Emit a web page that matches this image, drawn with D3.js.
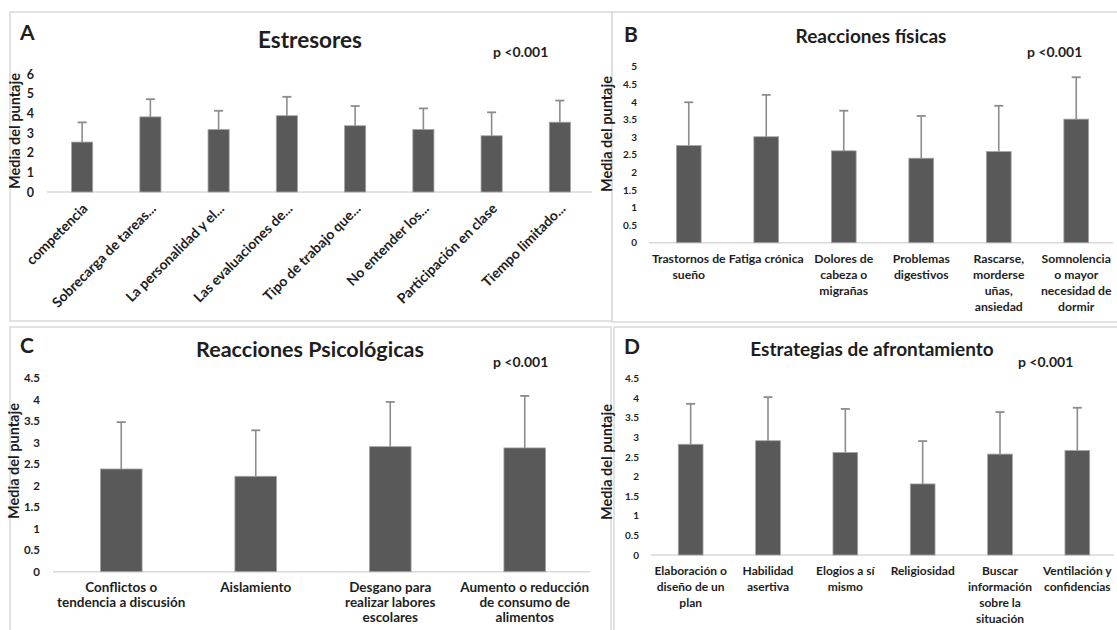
<!DOCTYPE html>
<html>
<head>
<meta charset="utf-8">
<script src="https://cdnjs.cloudflare.com/ajax/libs/d3/7.8.5/d3.min.js"></script>
<style>
  body { margin: 0; background: #fff; }
  text { font-family: Lato, "Open Sans", sans-serif; font-weight: bold; fill: #1e1e1e; }
</style>
</head>
<body>
<svg id="chart" width="1117" height="630"></svg>
<script>
// A - Estresores
const catsA = ["competencia", "Sobrecarga de tareas...", "La personalidad y el...", "Las evaluaciones de...",
  "Tipo de trabajo que...", "No entender los...", "Participación en clase", "Tiempo limitado..."]
const meansA = [2.54, 3.82, 3.18, 3.88, 3.37, 3.18, 2.86, 3.55]
const sdA = [1.00, 0.90, 0.95, 0.96, 1.00, 1.07, 1.19, 1.10]
const ticksA = [0, 1, 2, 3, 4, 5, 6]

// B - Reacciones físicas
const catsB = ["Trastornos de\nsueño", "Fatiga crónica", "Dolores de\ncabeza o\nmigrañas", "Problemas\ndigestivos",
  "Rascarse,\nmorderse\nuñas,\nansiedad", "Somnolencia\no mayor\nnecesidad de\ndormir"]
const meansB = [2.76, 3.01, 2.61, 2.40, 2.59, 3.51]
const sdB = [1.23, 1.19, 1.14, 1.20, 1.30, 1.19]
const ticksB = [0, 0.5, 1, 1.5, 2, 2.5, 3, 3.5, 4, 4.5, 5]

// C - Reacciones Psicológicas
const catsC = ["Conflictos o\ntendencia a discusión", "Aislamiento", "Desgano para\nrealizar labores\nescolares",
  "Aumento o reducción\nde consumo de\nalimentos"]
const meansC = [2.39, 2.22, 2.91, 2.88]
const sdC = [1.09, 1.07, 1.04, 1.21]
const ticksC = [0, 0.5, 1, 1.5, 2, 2.5, 3, 3.5, 4, 4.5]

// D - Estrategias de afrontamiento
const catsD = ["Elaboración o\ndiseño de un\nplan", "Habilidad\nasertiva", "Elogios a sí\nmismo", "Religiosidad",
  "Buscar\ninformación\nsobre la\nsituación", "Ventilación y\nconfidencias"]
const meansD = [2.82, 2.91, 2.61, 1.81, 2.57, 2.66]
const sdD = [1.03, 1.11, 1.11, 1.09, 1.07, 1.09]
const ticksD = [0, 0.5, 1, 1.5, 2, 2.5, 3, 3.5, 4, 4.5]

const pLabel = "p <0.001"
const yTitle = "Media del puntaje"

var svg = d3.select("#chart")

function panel(o) {
  var g = svg.append("g")

  // frame
  g.append("rect")
    .attr("x", o.frame[0]).attr("y", o.frame[1])
    .attr("width", o.frame[2]).attr("height", o.frame[3])
    .attr("fill", "#fff").attr("stroke", "#d9d9d9").attr("stroke-width", 1.5)

  var x = d3.scaleBand()
    .domain(o.cats)
    .range(o.xr)
    .paddingInner(1 - o.barFrac)
    .paddingOuter((1 - o.barFrac) / 2)

  var y = d3.scaleLinear()
    .domain([0, d3.max(o.ticks)])
    .range(o.yr)

  // letter, title, p value
  g.append("text").attr("x", o.letter[0]).attr("y", o.letter[1])
    .attr("font-size", "21px").text(o.name)
  g.append("text").attr("x", o.title[0]).attr("y", o.title[1])
    .attr("text-anchor", "middle").attr("font-size", o.titleSize + "px").text(o.label)
  g.append("text").attr("x", o.p[0]).attr("y", o.p[1])
    .attr("font-size", "14px").text(pLabel)

  // y axis (labels only, no line)
  var yAxis = g.append("g")
    .attr("transform", "translate(" + o.tickX + ",0)")
    .call(d3.axisLeft(y).tickValues(o.ticks).tickFormat((d) => String(d)).tickSize(0).tickPadding(0))
  yAxis.select(".domain").remove()
  yAxis.selectAll("text")
    .attr("font-size", o.tickSize + "px")
    .attr("font-family", "Lato, sans-serif")
    .attr("font-weight", "bold")
    .attr("fill", "#1e1e2e")

  g.append("text")
    .attr("transform", "translate(" + o.yTitle[0] + "," + o.yTitle[1] + ") rotate(-90)")
    .attr("text-anchor", "middle")
    .attr("dy", "0.35em")
    .attr("font-size", "14.5px")
    .text(yTitle)

  // baseline
  g.append("line")
    .attr("x1", o.base[0]).attr("x2", o.base[1])
    .attr("y1", y(0)).attr("y2", y(0))
    .attr("stroke", "#d9d9d9").attr("stroke-width", 1.5)

  // bars
  g.selectAll(".bar")
    .data(o.means)
    .enter().append("rect")
    .attr("class", "bar")
    .attr("x", (d, i) => x(o.cats[i]))
    .attr("y", (d) => y(d))
    .attr("width", x.bandwidth())
    .attr("height", (d) => y(0) - y(d))
    .attr("fill", "#595959")
    .attr("stroke", "#a6a6a6")
    .attr("stroke-width", 0.8)

  // error bars (upper only)
  var cx = (i) => x(o.cats[i]) + x.bandwidth() / 2
  g.selectAll(".err")
    .data(o.means)
    .enter().append("line")
    .attr("x1", (d, i) => cx(i)).attr("x2", (d, i) => cx(i))
    .attr("y1", (d) => y(d))
    .attr("y2", (d, i) => y(d + o.sd[i]))
    .attr("stroke", "#8c8c8c").attr("stroke-width", 1.6)
  g.selectAll(".cap")
    .data(o.means)
    .enter().append("line")
    .attr("x1", (d, i) => cx(i) - 4.5).attr("x2", (d, i) => cx(i) + 4.5)
    .attr("y1", (d, i) => y(d + o.sd[i]))
    .attr("y2", (d, i) => y(d + o.sd[i]))
    .attr("stroke", "#8c8c8c").attr("stroke-width", 1.8)

  // category labels
  if (o.rotate) {
    g.selectAll(".cat")
      .data(o.cats)
      .enter().append("text")
      .attr("transform", (d, i) => "translate(" + (cx(i) + 3) + "," + (y(0) + 14) + ") rotate(-45)")
      .attr("text-anchor", "end")
      .attr("dy", "0.35em")
      .attr("font-size", o.catSize + "px")
      .text((d) => d)
  } else {
    var t = g.selectAll(".cat")
      .data(o.cats)
      .enter().append("text")
      .attr("text-anchor", "middle")
      .attr("font-size", o.catSize + "px")
    t.selectAll("tspan")
      .data((d, i) => d.split("\n").map((s) => ({s: s, i: i})))
      .enter().append("tspan")
      .attr("x", (d) => cx(d.i))
      .attr("y", (d, j) => o.catY + j * o.lineH)
      .text((d) => d.s)
  }
}

panel({name: "A", label: "Estresores", cats: catsA, means: meansA, sd: sdA, ticks: ticksA,
  frame: [10, 12, 602, 309], xr: [48, 594], yr: [192, 74], base: [47, 592], barFrac: 0.31,
  letter: [20, 40], title: [310, 48], titleSize: 22.5, p: [493, 57],
  tickX: 34, tickSize: 12.5, yTitle: [15, 131], rotate: true, catSize: 14})

panel({name: "B", label: "Reacciones físicas", cats: catsB, means: meansB, sd: sdB, ticks: ticksB,
  frame: [612, 12, 520, 310], xr: [650, 1115], yr: [242.7, 66.7], base: [649, 1113], barFrac: 0.32,
  letter: [624, 42], title: [871, 43], titleSize: 19, p: [1027, 57],
  tickX: 637, tickSize: 10, yTitle: [607, 134], rotate: false, catSize: 12.2, catY: 263, lineH: 16})

panel({name: "C", label: "Reacciones Psicológicas", cats: catsC, means: meansC, sd: sdC, ticks: ticksC,
  frame: [10, 327, 601, 310], xr: [54, 592], yr: [571.7, 378.3], base: [53, 590], barFrac: 0.31,
  letter: [20, 353], title: [310, 357], titleSize: 21.5, p: [493, 367],
  tickX: 40, tickSize: 11.5, yTitle: [14, 461], rotate: false, catSize: 13.5, catY: 592, lineH: 15})

panel({name: "D", label: "Estrategias de afrontamiento", cats: catsD, means: meansD, sd: sdD, ticks: ticksD,
  frame: [614, 327, 510, 310], xr: [652, 1116], yr: [555, 378.3], base: [651, 1114], barFrac: 0.32,
  letter: [624, 354], title: [872, 356], titleSize: 19, p: [1018, 367],
  tickX: 639, tickSize: 10, yTitle: [607, 462], rotate: false, catSize: 12, catY: 575, lineH: 16})
</script>
</body>
</html>
